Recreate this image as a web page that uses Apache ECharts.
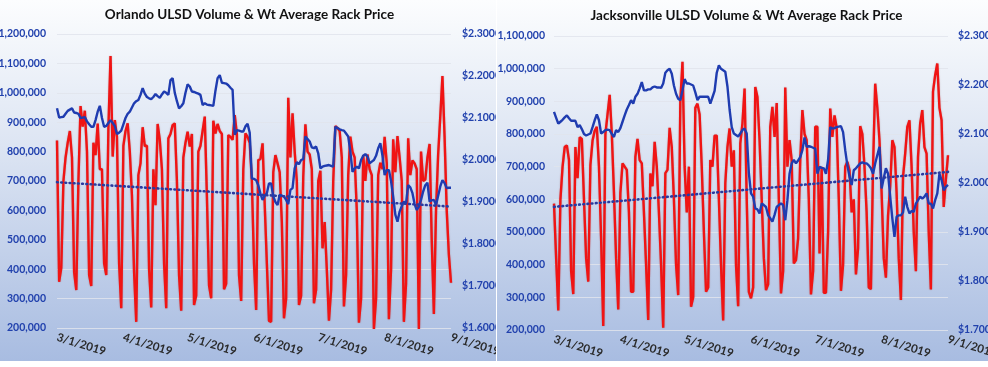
<!DOCTYPE html>
<html>
<head>
<meta charset="utf-8">
<script src="https://cdn.jsdelivr.net/npm/echarts@6/dist/echarts.min.js"></script>
<style>
  html, body { margin: 0; padding: 0; background: #ffffff; width: 988px; height: 367px; overflow: hidden; }
  .panel { position: absolute; top: 0; height: 361px;
    background: linear-gradient(to bottom, #fcfdfe 0%, #dde5f3 40%, #a8bce1 100%); }
  #left { left: 0; width: 496px; }
  #right { left: 497px; width: 491px; }
</style>
</head>
<body>
<div id="left" class="panel"></div>
<div id="right" class="panel"></div>
<script>
// ---------------- data ----------------
const startDate = [2019, 3, 1];   // first day of the daily series (3/1/2019)
const dayCount = 185;             // 3/1/2019 .. 9/1/2019

const titles = ['Orlando ULSD Volume & Wt Average Rack Price',
                'Jacksonville ULSD Volume & Wt Average Rack Price'];

// daily volume, thousands of gallons
const orlandoVolume = [
 838,357,405,700,780,830,870,780,390,329,
 700,955,885,939,800,380,343,830,788,895,
 740,740,420,380,880,1125,783,907,850,420,
 267,820,870,896,800,650,390,221,720,760,
 883,819,820,400,270,740,618,894,840,740,
 420,267,845,860,890,896,700,380,259,780,
 830,868,817,860,278,310,800,820,870,919,
 650,345,301,905,862,894,870,860,332,350,
 856,850,840,924,860,380,292,740,862,850,
 830,700,420,261,771,775,828,620,420,224,
 221,730,788,760,730,560,233,300,983,780,
 930,800,700,278,310,715,893,800,790,740,
 284,330,700,735,471,560,400,225,330,700,
 887,880,870,780,273,380,720,851,800,780,
 600,218,300,788,700,790,740,720,197,300,
 720,762,740,850,760,230,400,842,730,853,
 780,700,221,350,845,720,770,760,740,197,
 800,700,705,780,826,500,248,600,790,920,
 1057,850,600,450,354
];

// daily weighted average rack price, $/gal
const orlandoPrice = [
 2.123,2.101,2.102,2.103,2.110,2.117,2.120,2.123,2.113,2.112,
 2.110,2.100,2.101,2.102,2.092,2.085,2.079,2.079,2.095,2.115,
 2.129,2.100,2.079,2.081,2.088,2.095,2.088,2.081,2.062,2.065,
 2.070,2.085,2.100,2.110,2.115,2.125,2.135,2.140,2.143,2.155,
 2.171,2.158,2.150,2.147,2.145,2.150,2.157,2.152,2.148,2.156,
 2.163,2.160,2.155,2.190,2.195,2.160,2.140,2.123,2.128,2.135,
 2.160,2.180,2.175,2.163,2.162,2.160,2.158,2.155,2.131,2.135,
 2.132,2.131,2.130,2.129,2.165,2.195,2.202,2.184,2.183,2.182,
 2.178,2.172,2.167,2.060,2.071,2.070,2.068,2.068,2.080,2.086,
 2.065,1.956,1.955,1.952,1.940,1.920,1.905,1.915,1.921,1.944,
 1.944,1.913,1.900,1.893,1.917,1.915,1.913,1.905,1.895,1.929,
 1.933,1.980,1.995,1.990,2.000,2.002,2.056,2.050,2.044,2.030,
 2.028,2.032,2.016,1.980,1.984,1.986,1.987,1.988,1.986,1.984,
 2.079,2.076,2.073,2.071,2.070,2.063,2.056,2.020,1.972,1.980,
 1.984,1.980,2.000,2.010,2.014,2.008,1.992,1.996,2.000,2.010,
 2.028,2.040,2.010,1.964,1.976,1.976,1.950,1.913,1.870,1.853,
 1.877,1.890,1.901,1.897,1.940,1.935,1.921,1.895,1.881,1.889,
 1.905,1.925,1.940,1.946,1.901,1.904,1.905,1.893,1.915,1.937,
 1.952,1.945,1.933,1.934,1.934
];

const jaxVolume = [
 587,420,260,600,700,760,765,720,380,310,
 760,665,790,785,600,420,348,705,780,810,
 822,700,480,212,800,860,920,800,620,420,
 263,620,710,700,690,560,317,317,730,785,
 720,710,560,400,231,679,640,776,700,560,
 400,207,680,690,819,760,600,400,307,900,
 1021,700,560,700,271,300,880,893,860,700,
 500,317,330,720,700,795,795,600,400,229,
 650,760,817,700,750,400,273,771,832,939,
 600,317,297,330,944,913,780,600,420,322,
 340,822,883,791,895,600,312,380,942,700,
 781,720,404,414,480,720,873,800,781,600,
 309,380,822,822,434,700,314,314,500,878,
 791,857,820,600,320,400,700,715,690,560,
 600,370,450,824,800,700,560,330,325,700,
 954,880,780,620,420,360,550,640,781,760,
 620,420,292,669,740,822,842,700,500,380,
 730,832,873,760,740,500,324,930,980,1016,
 880,842,577,660,735
];

const jaxPrice = [
 2.145,2.133,2.121,2.125,2.129,2.134,2.138,2.132,2.127,2.127,
 2.127,2.114,2.118,2.110,2.100,2.097,2.099,2.101,2.114,2.128,
 2.140,2.128,2.101,2.104,2.108,2.109,2.108,2.100,2.094,2.108,
 2.104,2.112,2.125,2.138,2.150,2.159,2.169,2.162,2.176,2.182,
 2.193,2.206,2.189,2.189,2.191,2.191,2.195,2.197,2.195,2.195,
 2.194,2.203,2.225,2.230,2.233,2.223,2.199,2.182,2.172,2.169,
 2.189,2.212,2.203,2.203,2.201,2.199,2.185,2.169,2.176,2.176,
 2.176,2.176,2.176,2.162,2.175,2.188,2.225,2.240,2.233,2.230,
 2.227,2.197,2.150,2.114,2.101,2.098,2.095,2.101,2.108,2.111,
 2.101,2.020,1.979,1.972,1.948,1.946,1.938,1.958,1.955,1.951,
 1.934,1.928,1.921,1.935,1.951,1.955,1.958,1.955,1.924,1.965,
 2.019,2.040,2.047,2.040,2.046,2.053,2.067,2.093,2.074,2.075,
 2.074,2.072,2.070,2.019,2.033,2.031,2.030,2.019,2.047,2.114,
 2.111,2.112,2.114,2.115,2.116,2.104,2.067,2.036,2.013,1.996,
 2.026,2.030,2.035,2.040,2.042,2.040,2.040,2.036,2.030,2.019,
 2.040,2.057,2.074,1.989,2.010,2.030,2.019,1.972,1.928,1.890,
 1.931,1.934,1.934,1.940,1.972,1.951,1.938,1.943,1.941,1.958,
 1.965,1.972,1.968,1.972,1.979,1.958,1.958,1.948,1.965,1.979,
 2.019,2.006,1.985,1.992,1.996
];

// linear trend of volume (start, end), thousands
const orlandoTrend = [696, 613];
const jaxTrend = [577, 684];

// axis ranges
const orlandoVolumeAxis = [200, 1200, 100];
const orlandoPriceAxis = [1.6, 2.3, 0.1];
const jaxVolumeAxis = [200, 1100, 100];
const jaxPriceAxis = [1.7, 2.3, 0.1];

// ---------------- build ----------------
function buildDates() {
  const out = [];
  const t0 = Date.UTC(startDate[0], startDate[1] - 1, startDate[2]);
  for (let i = 0; i < dayCount; i++) {
    const d = new Date(t0 + i * 86400000);
    out.push((d.getUTCMonth() + 1) + '/' + d.getUTCDate() + '/' + d.getUTCFullYear());
  }
  return out;
}
const dates = buildDates();
const FONT = 'Lato';

function trendSeries(tr) {
  const arr = new Array(dayCount).fill(null);
  arr[0] = tr[0];
  arr[dayCount - 1] = tr[1];
  return arr;
}

function makeOption(title, vol, price, trend, vAxis, pAxis, L) {
  return {
    animation: false,
    backgroundColor: 'transparent',
    graphic: [{
      type: 'text', x: L.titleX, y: L.titleY,
      style: { text: title, fill: '#111', font: 'bold 13.5px ' + FONT, align: 'center', verticalAlign: 'middle' }
    }],
    grid: { left: L.gl, right: L.gr, top: L.gt, bottom: L.gb, containLabel: false, outerBoundsMode: 'none' },
    xAxis: {
      type: 'category', data: dates, boundaryGap: false,
      axisLine: { show: false }, axisTick: { show: false },
      splitLine: { show: false },
      axisLabel: {
        interval: (i, v) => v.split('/')[1] === '1',
        rotate: -17, margin: 9, hideOverlap: false,
        color: '#2a2a2a', fontFamily: FONT, fontWeight: 'bold', fontSize: 11.5
      }
    },
    yAxis: [{
      type: 'value', min: vAxis[0], max: vAxis[1], interval: vAxis[2],
      axisLine: { show: false }, axisTick: { show: false },
      splitLine: { show: true, lineStyle: { color: 'rgba(225,228,236,0.85)', width: 1 } },
      axisLabel: {
        margin: L.lm, color: '#2141ad', fontFamily: FONT, fontWeight: 'bold', fontSize: 10.5,
        formatter: v => (Math.round(v) * 1000).toLocaleString('en-US')
      }
    }, {
      type: 'value', min: pAxis[0], max: pAxis[1], interval: pAxis[2],
      axisLine: { show: false }, axisTick: { show: false }, splitLine: { show: false },
      axisLabel: {
        margin: L.rm, color: '#2141ad', fontFamily: FONT, fontWeight: 'bold', fontSize: 10.5,
        formatter: v => '$' + v.toFixed(4)
      }
    }],
    series: [{
      name: 'Volume', type: 'line', data: vol, yAxisIndex: 0, symbol: 'none',
      lineStyle: { color: '#f01414', width: 2.4, shadowColor: 'rgba(110,0,0,0.35)', shadowBlur: 1.5 },
      z: 2
    }, {
      name: 'Price', type: 'line', data: price, yAxisIndex: 1, symbol: 'none',
      lineStyle: { color: '#1f3cb0', width: 2.4 },
      z: 3
    }, {
      name: 'Trend', type: 'line', data: trendSeries(trend), yAxisIndex: 0, symbol: 'none',
      connectNulls: true,
      lineStyle: { color: '#2a3aa0', width: 2.6, type: [0.8, 3.4], cap: 'round' },
      z: 4
    }]
  };
}

const leftChart = echarts.init(document.getElementById('left'), null, { renderer: 'canvas' });
leftChart.setOption(makeOption(titles[0], orlandoVolume, orlandoPrice, orlandoTrend,
  orlandoVolumeAxis, orlandoPriceAxis,
  { gl: 57, gr: 45, gt: 34, gb: 33, lm: 11, rm: 11, titleX: 249.5, titleY: 15 }));

const rightChart = echarts.init(document.getElementById('right'), null, { renderer: 'canvas' });
rightChart.setOption(makeOption(titles[1], jaxVolume, jaxPrice, jaxTrend,
  jaxVolumeAxis, jaxPriceAxis,
  { gl: 57, gr: 40, gt: 36, gb: 31, lm: 9, rm: 10, titleX: 249.5, titleY: 16 }));
</script>
</body>
</html>
